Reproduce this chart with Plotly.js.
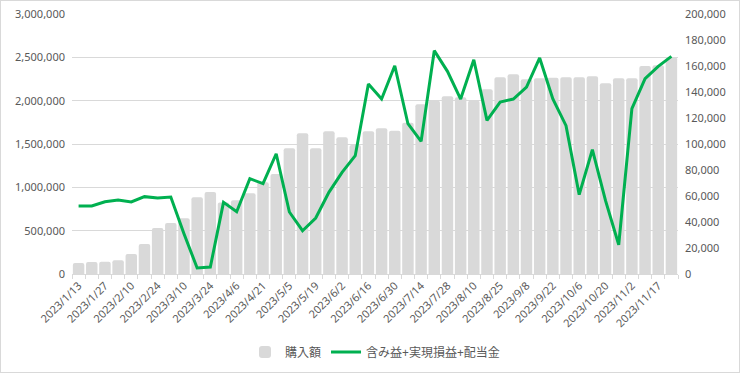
<!DOCTYPE html>
<html>
<head>
<meta charset="utf-8">
<script src="https://cdn.plot.ly/plotly-3.0.1.min.js"></script>
<style>
html,body{margin:0;padding:0;background:#fff;}
#chart{width:738px;height:371px;border:1px solid #d9d9d9;}
</style>
</head>
<body>
<div id="chart"></div>
<script>
const dates = ["2023/1/13","2023/1/20","2023/1/27","2023/2/3","2023/2/10","2023/2/17","2023/2/24","2023/3/3","2023/3/10","2023/3/17","2023/3/24","2023/3/31","2023/4/6","2023/4/14","2023/4/21","2023/4/28","2023/5/5","2023/5/12","2023/5/19","2023/5/26","2023/6/2","2023/6/9","2023/6/16","2023/6/23","2023/6/30","2023/7/7","2023/7/14","2023/7/21","2023/7/28","2023/8/4","2023/8/10","2023/8/18","2023/8/25","2023/9/1","2023/9/8","2023/9/15","2023/9/22","2023/9/29","2023/10/6","2023/10/13","2023/10/20","2023/10/27","2023/11/2","2023/11/10","2023/11/17","2023/11/24"];

const purchase = [128000,138000,140000,160000,230000,346000,530000,588000,643000,885000,946000,826000,851000,931000,1060000,1154000,1450000,1623000,1450000,1646000,1577000,1488000,1646000,1681000,1654000,1746000,1958000,1998000,2050000,2040000,2000000,2131000,2270000,2304000,2246000,2258000,2265000,2270000,2270000,2281000,2200000,2258000,2258000,2400000,2408000,2500000];

const profit = [52300,52300,55600,56900,55400,59500,58500,59200,31000,4600,5400,55100,47900,73300,69500,92500,47700,33300,43100,62800,78200,91000,146200,134600,160200,115600,102000,171800,155900,134600,164800,118200,132300,134600,143800,166200,134600,114100,61000,95600,56400,22500,127200,150200,159700,167400];

const purchaseName = "購入額";
const profitName = "含み益+実現損益+配当金";

const tickText = dates.map((d, i) => (i % 2 === 0 ? d : ""));
const leftTicks = [0,500000,1000000,1500000,2000000,2500000,3000000];
const rightTicks = [0,20000,40000,60000,80000,100000,120000,140000,160000,180000,200000];
const fmt = v => v.toLocaleString("en-US");

const fontFam = "Noto Sans, Noto Sans CJK JP, sans-serif";

const traces = [
  {
    type: "bar",
    name: purchaseName,
    x: dates,
    y: purchase,
    marker: {color: "#d9d9d9", cornerradius: 2},
    yaxis: "y",
    hoverinfo: "skip"
  },
  {
    type: "scatter",
    mode: "lines",
    name: profitName,
    x: dates,
    y: profit,
    line: {color: "#00b050", width: 3},
    yaxis: "y2",
    hoverinfo: "skip"
  }
];

const layout = {
  width: 738,
  height: 371,
  margin: {l: 71, r: 61, t: 13, b: 98, autoexpand: false},
  paper_bgcolor: "#ffffff",
  plot_bgcolor: "#ffffff",
  font: {family: fontFam, size: 11, color: "#595959"},
  bargap: 0.13,
  showlegend: true,
  legend: {
    orientation: "h",
    x: 0.5, xanchor: "center",
    y: -0.3, yanchor: "middle",
    font: {family: fontFam, size: 12, color: "#595959"},
    itemwidth: 30
  },
  xaxis: {
    type: "category",
    automargin: false,
    tickmode: "array",
    tickvals: dates,
    ticktext: tickText,
    tickangle: -45,
    tickson: "boundaries",
    ticks: "outside",
    ticklen: 4,
    tickcolor: "#d9d9d9",
    showline: true,
    linecolor: "#d9d9d9",
    linewidth: 1,
    showgrid: false,
    tickfont: {family: fontFam, size: 11, color: "#595959"},
    range: [-0.5, 45.5]
  },
  yaxis: {
    automargin: false,
    range: [0, 3000000],
    tickmode: "array",
    tickvals: leftTicks,
    ticktext: leftTicks.map(fmt),
    showgrid: true,
    gridcolor: "#d9d9d9",
    gridwidth: 1,
    zeroline: false,
    showline: false,
    ticks: "",
    ticklabelstandoff: 6,
    tickfont: {family: fontFam, size: 11, color: "#595959"}
  },
  yaxis2: {
    automargin: false,
    overlaying: "y",
    side: "right",
    range: [0, 200000],
    tickmode: "array",
    tickvals: rightTicks,
    ticktext: rightTicks.map(fmt),
    showgrid: false,
    zeroline: false,
    showline: false,
    ticks: "",
    ticklabelstandoff: 6,
    tickfont: {family: fontFam, size: 11, color: "#595959"}
  }
};

Plotly.newPlot("chart", traces, layout, {displayModeBar: false, staticPlot: true});
</script>
</body>
</html>
